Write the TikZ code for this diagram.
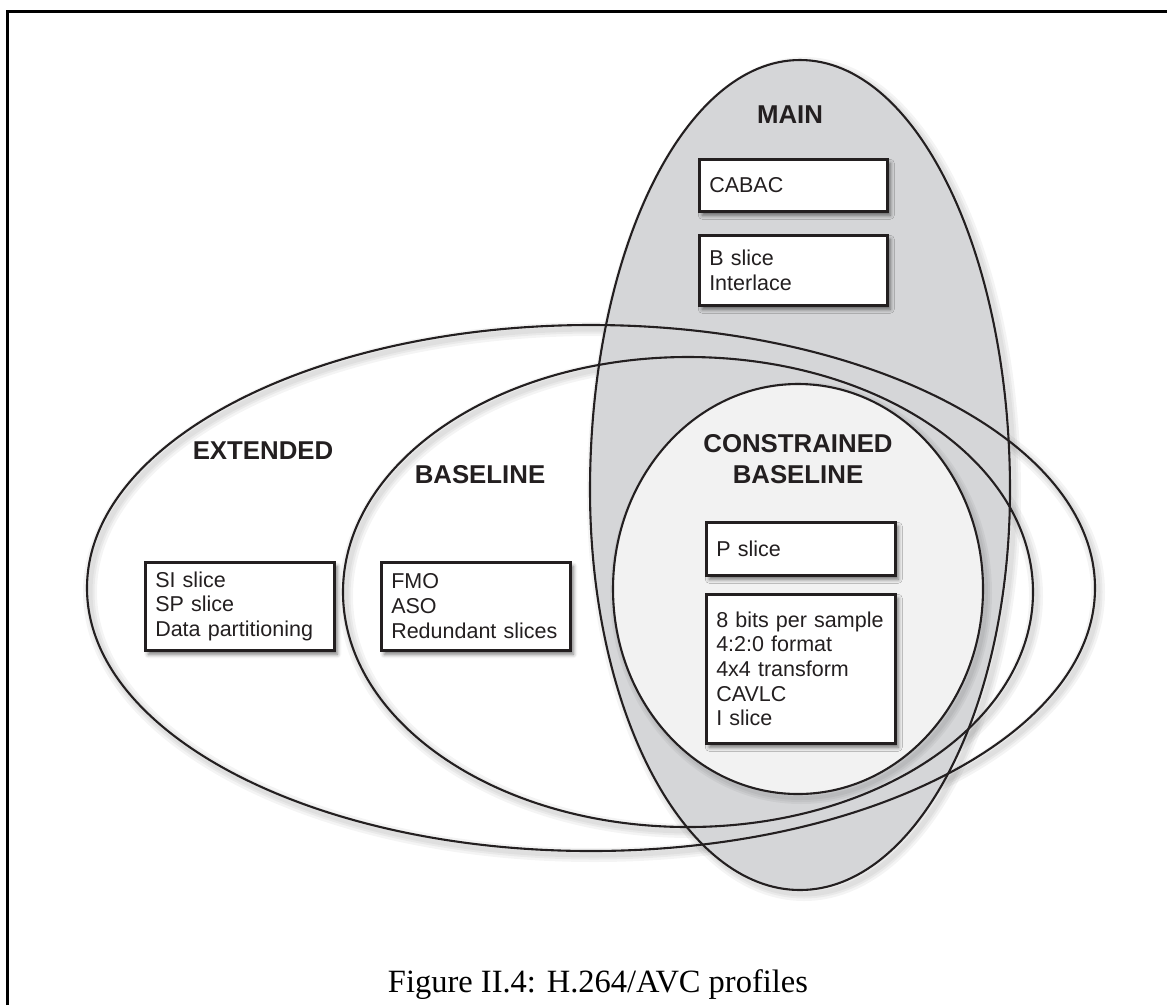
\documentclass[tikz,border=0pt]{standalone}
\usepackage{fontspec}
\setmainfont{Liberation Sans}
\newfontfamily\capfont{Liberation Serif}
\usetikzlibrary{shadows.blur}
\definecolor{mainfill}{RGB}{213,214,216}
\definecolor{corefill}{RGB}{242,242,242}
\definecolor{ink}{RGB}{35,31,32}

\begin{document}
\begin{tikzpicture}[x=1pt,y=-1pt,
  outline/.style={draw=ink, line width=2.1pt},
  halo/.style={draw=black, line width=#1, opacity=0.045},
  profile/.style={font=\fontsize{25.8}{31}\selectfont\bfseries, text=ink, inner sep=0pt, anchor=base},
  feature/.style={draw=ink, line width=2.5pt, fill=white, align=left, anchor=north west,
    inner xsep=10pt, inner ysep=0pt, minimum width=189pt, text width=169pt,
    font=\fontsize{21.5}{24.7}\selectfont, text=ink,
    blur shadow={shadow xshift=3pt, shadow yshift=-4pt, shadow blur radius=4pt, shadow opacity=55}},
]
\useasboundingbox (0,0) rectangle (1167,1005);

% egg-shaped outline of the MAIN profile
\def\mainegg{(1010,490) arc[start angle=0, end angle=180, x radius=210, y radius=400]
  arc[start angle=180, end angle=360, x radius=210, y radius=430] -- cycle}

% page frame
\draw[line width=3.5pt] (7.5,1005) -- (7.5,11.5) -- (1167,11.5);

% soft shadows of the outlines
\foreach \w in {14,9,5}{
  \draw[halo=\w, shift={(3,4)}] (591,588) ellipse [x radius=504, y radius=263];
  \draw[halo=\w, shift={(3,4)}] (688,592) ellipse [x radius=345, y radius=235];
  \draw[halo=\w, shift={(4,4)}] \mainegg;
}
% MAIN region
\fill[mainfill] \mainegg;
\foreach \w in {12,8,4}{
  \draw[halo=\w, shift={(3,4)}] (798,589) ellipse [x radius=185, y radius=205];
}
% CONSTRAINED BASELINE region
\fill[corefill] (798,589) ellipse [x radius=185, y radius=205];

% outlines
\draw[outline] (591,588) ellipse [x radius=504, y radius=263];
\draw[outline] (688,592) ellipse [x radius=345, y radius=235];
\draw[outline] \mainegg;
\draw[outline] (798,589) ellipse [x radius=185, y radius=205];

% profile names
\node[profile] (main) at (790,123) {MAIN};
\node[profile] (ext) at (263,459) {EXTENDED};
\node[profile] (base) at (480,483) {BASELINE};
\node[profile] (cb1) at (798,452) {CONSTRAINED};
\node[profile] (cb2) at (798,483) {BASELINE};

% feature boxes
\node[feature, minimum width=188pt, text width=168pt, minimum height=52pt] (cabac) at (698,158) {CABAC};
\node[feature, minimum width=188pt, text width=168pt, minimum height=70pt] (bint) at (698,234) {B slice\\Interlace};
\node[feature, minimum height=53pt] (pslice) at (705,521) {P slice};
\node[feature, minimum height=149pt] (basic) at (705,593) {8 bits per sample\\4:2:0 format\\4x4 transform\\CAVLC\\I slice};
\node[feature, minimum height=88pt] (extbox) at (144,561) {SI slice\\SP slice\\Data partitioning};
\node[feature, minimum height=88pt] (basebox) at (380,561) {FMO\\ASO\\Redundant slices};

% caption
\node[font=\capfont\fontsize{32.5}{36}\selectfont, anchor=base] (caption) at (598,992) {Figure II.4: H.264/AVC profiles};
\end{tikzpicture}
\end{document}
